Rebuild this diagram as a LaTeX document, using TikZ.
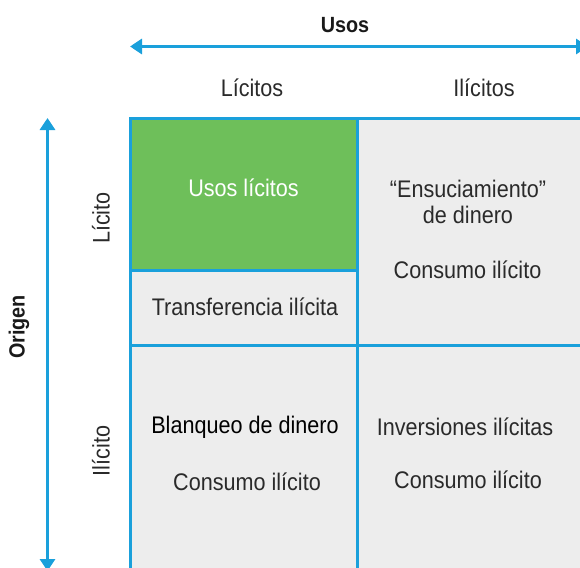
\documentclass[tikz,border=0pt]{standalone}
\usepackage{fontspec}
\setmainfont{Liberation Sans}[FakeStretch=0.9]
\usetikzlibrary{arrows.meta}
\definecolor{lineblue}{HTML}{1AA0DB}
\definecolor{cellgreen}{HTML}{6EBF5A}
\definecolor{cellgray}{HTML}{EDEDED}
\definecolor{inkgray}{HTML}{2A2A2A}

\begin{document}
\begin{tikzpicture}[x=1pt,y=-1pt,
  txt/.style={font=\fontsize{24}{28}\selectfont,text=inkgray,anchor=base,inner sep=0pt},
  head/.style={font=\bfseries\fontsize{22}{26}\selectfont,text=black!90},
  cell/.style={draw=lineblue,line width=3pt,fill=cellgray,inner sep=0pt,outer sep=0pt},
  axis/.style={draw=lineblue,line width=3pt,
    {Triangle[length=12pt,width=15pt]}-{Triangle[length=12pt,width=15pt]}}]
  \clip (0,0) rectangle (580,567);
  % cells of the matrix
  \node[cell,minimum width=263pt,minimum height=227pt] (ilicuso) at (488.5,231.5) {};
  \node[cell,minimum width=227pt,minimum height=275pt] (blanqueo) at (243.5,482.5) {};
  \node[cell,minimum width=263pt,minimum height=275pt] (inversion) at (488.5,482.5) {};
  \node[cell,minimum width=227pt,minimum height=75pt] (transfer) at (243.5,307.5) {};
  \node[cell,fill=cellgreen,minimum width=227pt,minimum height=152pt] (licuso) at (243.5,194) {};
  % texts inside
  \node[txt,text=white] (t1) at (243.5,196) {Usos lícitos};
  \node[txt] (t2) at (245,315) {Transferencia ilícita};
  \node[txt] (t3) at (468,197) {“Ensuciamiento”};
  \node[txt] (t4) at (468,223) {de dinero};
  \node[txt] (t5) at (467.5,278) {Consumo ilícito};
  \node[txt,text=black] (t6) at (245,433) {Blanqueo de dinero};
  \node[txt] (t7) at (247,490) {Consumo ilícito};
  \node[txt] (t8) at (465,435) {Inversiones ilícitas};
  \node[txt] (t9) at (468,488) {Consumo ilícito};
  % headers and axes
  \node[txt] (lic) at (252,97) {Lícitos};
  \node[txt] (ilic) at (484,97) {Ilícitos};
  \node[txt,rotate=90,anchor=center] (rlic) at (101,218) {Lícito};
  \node[txt,rotate=90,anchor=center] (rilic) at (101,451) {Ilícito};
  \node[head] (usos) at (345,25) {Usos};
  \node[head,rotate=90] (origen) at (19,327) {Origen};
  \coordinate (usosL) at (130,46.5);
  \coordinate (usosR) at (588,46.5);
  \coordinate (origT) at (47.5,118);
  \coordinate (origB) at (47.5,571);
  \draw[axis] (usosL) -- (usosR);
  \draw[axis] (origT) -- (origB);
\end{tikzpicture}
\end{document}
